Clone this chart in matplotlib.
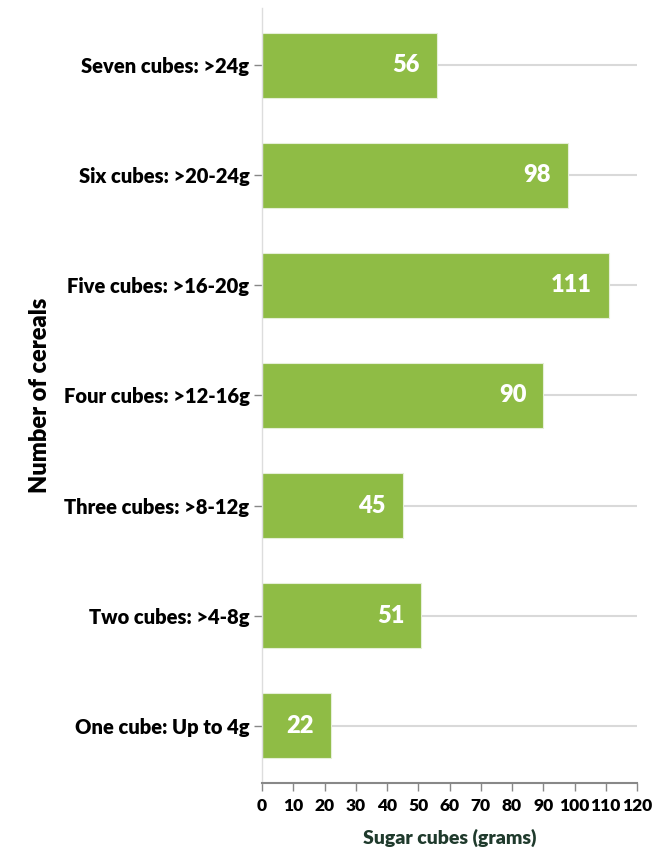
import matplotlib.pyplot as plt
from matplotlib import transforms

# categories (top to bottom) and counts
categories = [
    'Seven cubes: >24g',
    'Six cubes: >20-24g',
    'Five cubes: >16-20g',
    'Four cubes: >12-16g',
    'Three cubes: >8-12g',
    'Two cubes: >4-8g',
    'One cube: Up to 4g',
]
counts = [56, 98, 111, 90, 45, 51, 22]
x_ticks = [0, 10, 20, 30, 40, 50, 60, 70, 80, 90, 100, 110, 120]

plt.rcParams['font.family'] = ['Lato', 'DejaVu Sans']

fig = plt.figure(figsize=(6.68, 8.51), dpi=100)
ax = fig.add_axes([262 / 668, 68 / 851, 375 / 668, 775 / 851])

ypos = list(range(len(categories)))[::-1]

# grid lines at each category
for y in ypos:
    ax.axhline(y, color='#d9d9d9', linewidth=1.5, zorder=1)

ax.barh(ypos, counts, height=0.59, color='#8fbc45', edgecolor='#e6efd8',
        linewidth=0.8, zorder=2)

# value labels inside the bar end
offset = transforms.offset_copy(ax.transData, fig=fig, x=-17, y=0, units='dots')
for y, v in zip(ypos, counts):
    ax.text(v, y, str(v), transform=offset, ha='right', va='center',
            color='white', fontsize=17, fontweight='heavy', zorder=3)

ax.set_xlim(0, 120)
ax.set_ylim(-0.52, 6.52)
ax.set_xticks(x_ticks)
ax.set_xticklabels([str(t) for t in x_ticks], fontsize=12.5, fontweight='heavy')
ax.set_yticks(ypos)
ax.set_yticklabels(categories, fontsize=14.5, fontweight='heavy')

ax.tick_params(axis='x', length=6, color='#888888', width=1, pad=5)
ax.tick_params(axis='y', length=6, color='#888888', width=1, pad=3)

for s in ['top', 'right']:
    ax.spines[s].set_visible(False)
ax.spines['left'].set_color('#dddddd')
ax.spines['left'].set_linewidth(1)
ax.spines['bottom'].set_color('#888888')
ax.spines['bottom'].set_linewidth(1.5)

fig.text(450 / 668, 1 - 838 / 851, 'Sugar cubes (grams)', ha='center',
         va='center', fontsize=14, fontweight='heavy', color='#1f3a2c')
fig.text(40 / 668, 1 - 395 / 851, 'Number of cereals', ha='center',
         va='center', rotation=90, fontsize=17, fontweight='heavy',
         color='black')

plt.savefig('out.png', dpi=100)
